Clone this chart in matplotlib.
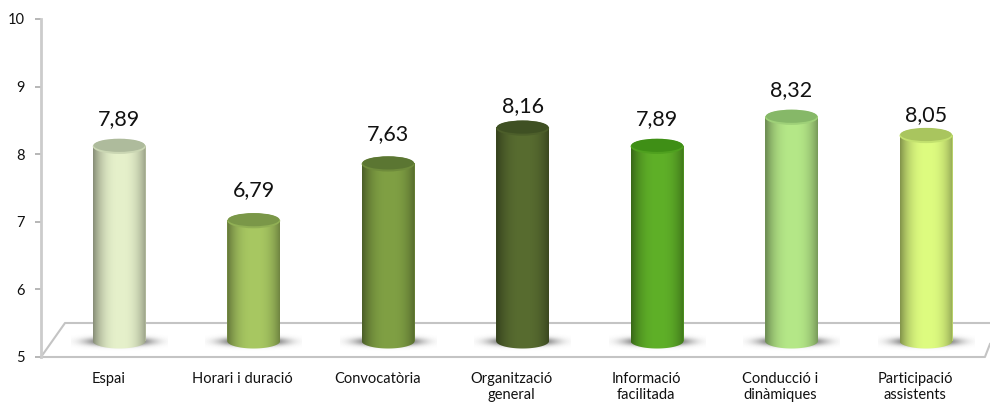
import matplotlib
matplotlib.use("Agg")
import matplotlib.pyplot as plt
from matplotlib.colors import to_rgb
from matplotlib.patches import Ellipse
from matplotlib.path import Path
import numpy as np

categories = ["Espai", "Horari i duració", "Convocatòria", "Organització\ngeneral",
              "Informació\nfacilitada", "Conducció i\ndinàmiques", "Participació\nassistents"]
values = [7.89, 6.79, 7.63, 8.16, 7.89, 8.32, 8.05]
y_ticks = [5, 6, 7, 8, 9, 10]

body_colors = ["#e6f1cb", "#a8c862", "#80a044", "#586c30", "#5fb028", "#b5e888", "#defc80"]
top_colors = ["#aebb9c", "#7a9748", "#5b7632", "#3f5023", "#3f8f16", "#86b868", "#a9c55e"]
# label distance above the bar top, pixels
label_pads = [27, 30, 29, 21, 27, 26, 20]

GREY = "#c4c4c4"
DX = 11 / 134.5   # 3d shift of the bars, x units
DY = 16 / 67.6    # same in y units
WIDTH = 53 / 134.5
ELL_H = 15 / 67.6

plt.rcParams["font.family"] = ["Lato", "DejaVu Sans"]

fig = plt.figure(figsize=(9.9, 4.05), dpi=100)
ax = fig.add_axes([41 / 990, 48 / 405, 949 / 990, 338 / 405])

x = np.arange(len(categories))
vals = np.array(values)
xlim = (-0.5, (990 - 108) / 134.5)

# floor of the 3d chart
back = 5 + 34 / 67.6
ax.plot([-0.5, -0.5 + 24 / 134.5, xlim[1]], [5, back, back], color=GREY, lw=1.5, zorder=1, clip_on=False)
ax.plot([-0.5, 6.52, xlim[1]], [5, 5, 5 + 13 / 67.6], color=GREY, lw=1.5, zorder=1, clip_on=False)

# soft shadows on the floor
u, w = np.meshgrid(np.linspace(-1, 1, 200), np.linspace(-1, 1, 60))
shade = np.exp(-(np.abs(u) ** 3) * 3.2 - (w ** 2) * 7)
shadow = np.zeros(shade.shape + (4,))
shadow[..., :3] = 0.28
shadow[..., 3] = 0.95 * shade
for xi in x:
    ax.imshow(shadow, extent=(xi + DX - 0.36, xi + DX + 0.36, 5 + DY - 0.17, 5 + DY + 0.13),
              aspect="auto", zorder=2, interpolation="bilinear")

# bars, then the cylinder shading clipped to each of them
bars = ax.bar(x + DX, vals - 5, bottom=5 + DY, width=WIDTH, color=body_colors, zorder=3)
t = np.linspace(-1, 1, 256)
profile = 1 - 0.38 * np.abs(t - 0.04) ** 2.6
theta = np.linspace(np.pi, 2 * np.pi, 60)
for rect, body, top in zip(bars, body_colors, top_colors):
    x0, w0 = rect.get_x(), rect.get_width()
    y0, y1 = rect.get_y(), rect.get_y() + rect.get_height()
    cx = x0 + w0 / 2
    arc = np.column_stack([cx + w0 / 2 * np.cos(theta), y0 + ELL_H / 2 * np.sin(theta)])
    outline = np.vstack([[x0, y1], arc, [x0 + w0, y1], [x0, y1]])
    img = (np.array(to_rgb(body))[None, None, :] * profile[None, :, None])
    im = ax.imshow(img, extent=(x0, x0 + w0, y0 - ELL_H, y1), aspect="auto", zorder=4,
                   interpolation="bilinear")
    im.set_clip_path(Path(outline), transform=ax.transData)
    # lighter rim under the top face
    rim = tuple(0.5 * a + 0.5 * b for a, b in zip(to_rgb(body), to_rgb(top)))
    ax.add_patch(Ellipse((cx, y1 - 0.012), w0, ELL_H, color=rim, zorder=5, lw=0))
    ax.add_patch(Ellipse((cx, y1 + 0.005), w0 * 0.97, ELL_H * 0.88, color=top, zorder=6, lw=0))

for rect, v, pad in zip(bars, values, label_pads):
    ax.annotate(f"{v:.2f}".replace(".", ","), (rect.get_x() + rect.get_width() / 2, v + DY),
                xytext=(0, pad), textcoords="offset pixels", ha="center", va="center",
                fontsize=15.5, color="#111111", zorder=7)

ax.set_xlim(xlim)
ax.set_ylim(5, 10)
ax.set_yticks(y_ticks)
ax.set_xticks(x)
ax.set_xticklabels(categories, fontsize=10.5, linespacing=1.2, color="#111111")
ax.tick_params(axis="x", length=0, pad=11)
ax.tick_params(axis="y", length=4, width=1.2, color="#aaaaaa", pad=8, labelsize=10.5, labelcolor="#111111")
for side in ["top", "right", "bottom"]:
    ax.spines[side].set_visible(False)
ax.spines["left"].set_color("#cccccc")
ax.spines["left"].set_linewidth(2)

fig.savefig("out.png", dpi=100)
